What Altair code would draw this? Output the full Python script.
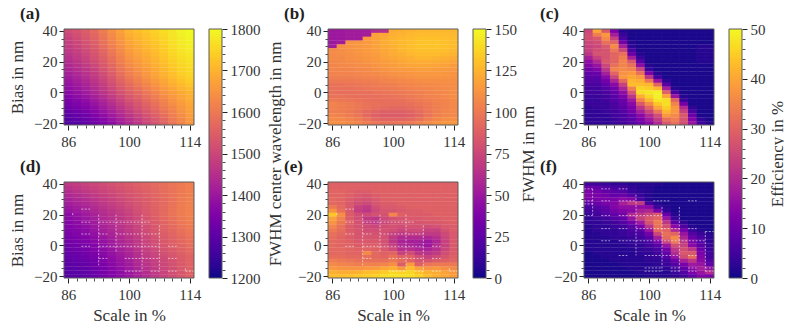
import altair as alt
import pandas as pd

scale_pct = [86, 88, 90, 92, 94, 96, 98, 100, 102, 104, 106, 108, 110, 112, 114]
bias_nm = [40, 37.5, 35, 32.5, 30, 27.5, 25, 22.5, 20, 17.5, 15, 12.5, 10, 7.5, 5, 2.5, 0,
           -2.5, -5, -7.5, -10, -12.5, -15, -17.5, -20]

a_vals = [
 [1510,1525,1545,1570,1605,1640,1670,1700,1715,1730,1745,1760,1775,1790,1800],
 [1500,1515,1538,1562,1597,1632,1663,1692,1708,1724,1740,1755,1772,1787,1797],
 [1490,1508,1530,1555,1590,1625,1655,1685,1702,1718,1735,1750,1768,1784,1793],
 [1483,1500,1522,1547,1582,1617,1647,1677,1695,1712,1729,1745,1764,1780,1789],
 [1475,1493,1515,1540,1575,1608,1640,1670,1688,1706,1723,1740,1760,1775,1785],
 [1468,1486,1507,1532,1566,1600,1632,1662,1681,1700,1717,1735,1755,1771,1781],
 [1460,1478,1500,1525,1558,1592,1625,1655,1674,1693,1711,1730,1750,1766,1776],
 [1452,1470,1492,1517,1550,1584,1617,1647,1667,1686,1705,1725,1745,1761,1771],
 [1445,1463,1485,1510,1542,1576,1610,1640,1660,1680,1700,1720,1740,1756,1766],
 [1435,1453,1475,1500,1532,1566,1600,1630,1651,1672,1692,1713,1733,1750,1761],
 [1426,1444,1465,1490,1522,1556,1590,1620,1642,1664,1685,1706,1726,1744,1756],
 [1416,1434,1455,1480,1512,1546,1580,1610,1633,1656,1678,1700,1719,1738,1751],
 [1407,1424,1445,1470,1502,1535,1570,1600,1624,1648,1671,1693,1712,1732,1746],
 [1398,1414,1435,1460,1492,1524,1558,1587,1611,1636,1660,1682,1701,1721,1737],
 [1389,1404,1425,1450,1481,1513,1546,1574,1598,1623,1648,1672,1691,1711,1727],
 [1379,1395,1415,1440,1470,1501,1533,1561,1584,1609,1634,1658,1678,1698,1713],
 [1370,1385,1405,1430,1460,1490,1520,1548,1570,1595,1620,1645,1665,1685,1700],
 [1358,1374,1392,1416,1446,1476,1506,1534,1557,1582,1608,1634,1656,1677,1694],
 [1347,1362,1380,1404,1432,1462,1492,1520,1544,1570,1596,1622,1646,1668,1687],
 [1336,1350,1367,1390,1418,1447,1477,1506,1531,1558,1584,1611,1637,1659,1680],
 [1325,1338,1355,1377,1405,1433,1463,1492,1518,1545,1572,1600,1627,1651,1674],
 [1313,1325,1342,1363,1391,1418,1448,1478,1505,1533,1560,1589,1618,1643,1668],
 [1302,1314,1330,1351,1377,1404,1434,1463,1491,1520,1548,1578,1608,1635,1662],
 [1291,1302,1317,1338,1363,1390,1419,1449,1478,1508,1536,1566,1599,1627,1656],
 [1280,1290,1305,1325,1350,1375,1405,1435,1465,1495,1525,1555,1590,1620,1650],
]
d_vals = [
 [1470,1480,1490,1500,1510,1520,1530,1540,1550,1560,1570,1580,1590,1600,1610],
 [1458,1468,1479,1490,1502,1512,1523,1534,1545,1556,1567,1578,1589,1600,1610],
 [1446,1457,1468,1480,1493,1504,1516,1528,1540,1552,1564,1576,1588,1600,1611],
 [1434,1445,1457,1470,1484,1496,1509,1522,1535,1548,1561,1574,1587,1600,1611],
 [1422,1434,1446,1460,1475,1488,1502,1516,1530,1544,1558,1572,1586,1601,1612],
 [1410,1423,1436,1450,1466,1479,1494,1509,1525,1540,1556,1571,1587,1602,1613],
 [1399,1412,1425,1440,1457,1471,1486,1503,1520,1537,1553,1570,1588,1603,1613],
 [1387,1401,1415,1430,1448,1463,1478,1496,1515,1533,1551,1570,1589,1604,1614],
 [1375,1390,1405,1420,1440,1455,1470,1490,1510,1530,1550,1570,1590,1605,1615],
 [1368,1382,1397,1413,1433,1449,1465,1484,1504,1525,1545,1565,1584,1600,1611],
 [1362,1375,1390,1407,1428,1444,1460,1479,1499,1520,1540,1560,1578,1595,1607],
 [1356,1368,1382,1400,1421,1438,1455,1474,1494,1514,1535,1555,1572,1590,1602],
 [1350,1361,1375,1393,1414,1432,1450,1469,1489,1510,1530,1550,1566,1583,1597],
 [1344,1354,1367,1385,1406,1424,1443,1462,1483,1505,1525,1545,1561,1577,1592],
 [1337,1348,1360,1377,1398,1416,1435,1455,1477,1500,1520,1540,1555,1571,1586],
 [1331,1341,1352,1368,1389,1408,1428,1448,1471,1495,1515,1535,1550,1565,1580],
 [1325,1335,1345,1360,1380,1400,1420,1440,1465,1490,1510,1530,1545,1560,1575],
 [1319,1328,1338,1353,1373,1393,1413,1434,1459,1484,1504,1524,1539,1554,1569],
 [1314,1322,1332,1346,1367,1387,1407,1427,1452,1477,1498,1517,1533,1549,1563],
 [1309,1316,1325,1340,1360,1380,1400,1420,1445,1470,1492,1510,1527,1544,1558],
 [1304,1310,1319,1333,1353,1373,1393,1413,1439,1464,1485,1504,1522,1540,1556],
 [1299,1304,1313,1327,1347,1367,1387,1407,1433,1458,1480,1499,1518,1537,1554],
 [1294,1298,1307,1321,1341,1361,1381,1401,1426,1451,1475,1495,1514,1534,1552],
 [1290,1294,1303,1318,1338,1358,1378,1398,1423,1448,1472,1492,1512,1532,1551],
 [1285,1290,1300,1315,1335,1355,1375,1395,1420,1445,1470,1490,1510,1530,1550],
]
b_vals = [
 [50,50,52,52,53,60,62,122,124,125,126,127,127,127,126],
 [50,50,52,52,53,118,120,124,125,127,128,128,128,128,127],
 [50,50,52,52,115,118,122,125,127,128,130,130,130,129,128],
 [50,52,112,113,115,118,122,125,127,129,131,131,131,130,128],
 [52,110,112,113,115,118,121,124,127,129,131,131,131,130,128],
 [108,109,111,113,115,117,120,123,126,128,130,130,130,129,127],
 [108,109,110,112,114,116,119,122,124,126,128,128,128,127,125],
 [108,108,110,111,113,115,118,120,122,124,126,126,125,124,122],
 [107,108,109,110,112,114,116,118,120,122,123,123,122,121,119],
 [106,107,108,109,110,112,114,116,118,119,120,120,119,118,116],
 [106,106,106,107,108,110,112,114,115,116,117,117,116,115,114],
 [105,105,105,106,107,108,110,111,112,113,114,114,114,113,112],
 [103,103,103,104,105,106,107,109,110,111,112,112,112,112,111],
 [100,100,100,101,102,103,105,106,107,108,109,110,110,110,110],
 [97,97,98,99,100,101,102,103,105,106,107,108,108,109,109],
 [96,96,96,97,98,99,100,101,102,104,105,106,107,108,109],
 [96,95,95,96,96,97,98,99,100,101,103,105,106,107,109],
 [97,97,96,95,95,95,96,97,98,100,102,104,105,107,109],
 [100,99,98,97,96,95,95,95,96,98,100,102,104,106,108],
 [105,103,101,99,97,96,95,95,95,96,98,100,103,105,107],
 [104,102,101,99,97,95,93,92,92,94,96,99,102,105,107],
 [103,102,100,97,93,90,88,88,88,90,94,98,102,106,107],
 [106,104,101,98,92,88,86,86,86,88,92,98,103,106,107],
 [108,107,105,102,97,92,90,90,90,92,96,102,106,109,110],
 [110,110,108,106,102,98,96,97,98,100,104,108,111,113,113],
]
e_vals = [
 [88,88,88,88,88,88,88,88,88,88,88,88,88,88,88],
 [88,88,88,88,88,88,88,88,88,88,88,88,88,88,88],
 [90,90,88,86,86,88,88,88,88,88,88,88,88,88,88],
 [90,90,88,84,82,86,88,88,88,88,88,88,88,88,88],
 [92,90,86,82,80,84,88,88,88,88,88,88,88,88,88],
 [92,90,84,78,76,82,86,86,88,88,88,88,88,88,88],
 [100,92,84,72,68,78,84,84,86,88,88,88,88,88,88],
 [112,96,84,70,66,76,82,82,84,86,86,88,88,88,88],
 [132,110,86,78,76,80,80,106,88,86,86,86,88,88,88],
 [118,104,86,78,68,66,76,80,82,84,84,86,86,88,88],
 [112,100,88,80,70,68,74,78,80,82,82,84,84,86,88],
 [106,96,86,80,76,74,78,80,78,80,80,78,80,84,86],
 [100,94,86,82,78,78,80,78,74,76,76,72,72,80,86],
 [96,92,86,82,80,80,78,72,68,70,70,68,68,76,84],
 [94,90,86,82,82,82,80,68,60,60,60,58,62,74,84],
 [92,90,88,84,84,84,80,66,56,54,54,50,58,72,84],
 [92,90,88,86,86,86,80,70,58,56,52,50,60,72,84],
 [92,92,90,88,90,88,84,76,62,62,58,56,62,74,84],
 [92,92,90,90,108,92,88,90,72,78,66,64,68,78,86],
 [94,94,92,92,96,92,90,96,88,88,78,72,76,82,88],
 [102,100,98,96,96,96,96,100,94,90,82,82,86,88,90],
 [108,106,104,102,104,104,106,110,86,116,88,98,100,100,100],
 [114,112,112,112,114,116,120,124,114,128,118,112,114,110,108],
 [124,122,122,124,128,130,134,138,136,138,130,124,122,118,114],
 [128,128,130,132,134,136,140,142,142,140,136,128,124,120,116],
]
c_vals = [
 [25,40,28,12,2,1,1,1,1,1,1,1,1,1,1],
 [26,34,38,18,4,1,1,1,1,1,1,1,1,1,1],
 [26,28,36,24,6,1,1,1,1,1,1,1,1,1,1],
 [25,26,32,30,11,2,1,1,1,1,1,1,1,1,1],
 [24,25,28,36,18,3,1,1,1,1,1,1,1,2,2],
 [24,26,27,33,25,6,1,1,1,1,1,1,1,2,2],
 [22,27,27,30,32,10,2,1,1,1,1,1,1,2,2],
 [18,24,27,30,34,18,4,1,1,1,1,1,1,2,2],
 [15,20,28,30,35,28,8,1,1,1,1,1,1,2,2],
 [13,16,25,32,35,32,15,2,1,1,1,1,1,1,1],
 [11,13,22,35,36,35,25,4,1,1,1,1,1,1,1],
 [9,10,18,30,37,38,32,12,2,1,1,1,1,1,1],
 [8,8,14,25,38,40,38,22,5,1,1,1,1,1,1],
 [7,7,11,19,31,42,41,33,16,3,1,1,1,1,1],
 [6,6,9,14,24,43,43,42,30,8,1,1,1,1,1],
 [5,5,7,11,19,35,46,45,42,18,2,1,1,1,1],
 [5,5,6,9,15,28,47,48,49,30,6,1,1,1,1],
 [4,4,5,8,12,22,41,46,49,40,16,2,1,1,1],
 [4,4,5,7,10,17,35,42,48,47,30,4,1,1,1],
 [4,4,4,6,9,14,28,36,44,47,35,11,1,1,1],
 [3,4,4,6,8,12,22,30,40,45,38,20,3,1,1],
 [3,3,4,5,7,11,18,25,33,42,38,24,6,1,1],
 [3,3,3,5,6,9,14,20,26,38,36,28,10,1,1],
 [3,3,3,4,6,8,12,17,23,32,34,27,13,3,1],
 [3,3,3,4,5,7,10,14,20,28,32,26,16,5,2],
]
f_vals = [
 [5,5,4,3,3,2,2,2,2,1,1,1,1,1,1],
 [10,9,7,6,5,3,2,2,1,1,1,1,1,1,1],
 [12,11,9,8,7,4,3,2,1,1,1,1,1,1,1],
 [13,12,11,9,10,7,4,2,1,1,1,1,1,1,1],
 [12,12,12,12,14,13,6,2,1,1,1,1,1,1,1],
 [9,10,12,13,18,22,23,5,2,1,1,1,1,1,1],
 [6,7,9,13,15,15,15,14,4,2,1,1,1,1,1],
 [5,6,8,11,13,14,18,19,12,3,1,1,1,1,1],
 [4,5,7,9,11,20,22,25,28,10,2,1,1,1,1],
 [3,4,5,7,9,16,24,28,30,16,4,1,1,1,1],
 [3,3,4,5,7,11,17,27,33,22,8,3,1,1,1],
 [2,3,3,4,5,8,12,22,32,26,14,6,2,1,1],
 [2,3,3,3,4,6,8,16,31,30,20,11,4,2,1],
 [2,2,3,3,4,5,6,11,25,32,30,16,7,4,2],
 [2,2,2,3,3,4,5,8,18,31,36,19,10,6,3],
 [2,2,2,2,3,3,4,6,12,25,33,22,12,7,3],
 [2,2,2,2,2,3,3,5,8,16,26,24,14,8,4],
 [2,2,2,2,2,2,3,4,6,11,22,26,22,10,4],
 [1,2,2,2,2,2,3,3,5,9,20,28,28,12,5],
 [1,1,2,2,2,2,2,3,4,7,16,26,31,13,5],
 [1,1,1,2,2,2,2,3,3,5,10,18,22,14,7],
 [1,1,1,1,2,2,2,2,3,4,7,12,17,16,9],
 [1,1,1,1,1,2,2,2,2,3,5,9,14,18,15],
 [1,1,1,1,1,1,2,2,2,2,4,7,12,16,20],
 [1,1,1,1,1,1,1,2,2,2,3,5,9,13,12],
]

# hairline gaps in the lower panels: (x, x2, y, y2)
gaps_de = [
 (89,91,23.6,23.6),(89,91,15.1,15.1),(93,105,15.1,15.1),(89,91,7.4,7.4),(93,95,7.4,7.4),
 (97,107,7.4,7.4),(89,91,-0.6,-0.6),(93,107,-0.6,-0.6),(109,111,-0.6,-0.6),(93,95,-8.5,-8.5),
 (99,107,-8.5,-8.5),(109,111,-8.5,-8.5),(99,103,-16.8,-16.8),(105,107,-16.8,-16.8),
 (109,111,-16.8,-16.8),(113,115,-16.8,-16.8),
 (93,93,20,-13),(97,97,20,-4),(103,103,20,-17),(107,107,13,-17),(113,113,-15,-17),(87,87,21,19),
]
gaps_f = [
 (85,87,36.8,36.8),(89,91,36.8,36.8),(93,95,36.8,36.8),(85,87,29,29),(89,91,29,29),(93,97,29,29),
 (101,105,29,29),(109,111,29,29),(85,87,27,27),(85,87,19.4,19.4),(89,91,19.4,19.4),(93,97,19.4,19.4),
 (97,103,19.4,19.4),(89,91,10.9,10.9),(93,95,10.9,10.9),(97,107,10.9,10.9),(109,111,10.9,10.9),
 (113,115,9,9),(89,91,3,3),(93,113,3,3),(93,95,-6.6,-6.6),(99,107,-6.6,-6.6),(109,111,-6.6,-6.6),
 (99,103,-14.7,-14.7),(105,107,-14.7,-14.7),(109,111,-14.7,-14.7),(113,115,-14.7,-14.7),
 (99,103,-16.8,-16.8),(105,107,-16.8,-16.8),(109,111,-16.8,-16.8),(113,115,-16.8,-16.8),
 (97,97,33,-6.6),(103,103,25,-17),(107,107,25,-17),(113,113,9,-17),(87,87,36.8,19.4),
]

x_major = [86, 100, 114]
x_minor = [88, 90, 92, 94, 96, 98, 102, 104, 106, 108, 110, 112]
y_major = [40, 20, 0, -20]
y_minor = [35, 30, 25, 15, 10, 5, -5, -10, -15]

cb_a = {"dom": [1200, 1800], "major": [1200, 1300, 1400, 1500, 1600, 1700, 1800],
        "title": "FWHM center wavelength in nm", "tp": 7}
cb_b = {"dom": [0, 150], "major": [0, 25, 50, 75, 100, 125, 150], "title": "FWHM in nm", "tp": 4}
cb_c = {"dom": [0, 50], "major": [0, 10, 20, 30, 40, 50], "title": "Efficiency in %", "tp": 4}

XDOM = [85, 115]
YDOM = [-21.25, 41.25]
PW, PH = 130, 96
INK = "#333333"
FRAME = "#5a5a5a"


def panel(vals, dom, label, gaps=None, xtitle=None, ytitle=None):
    rows = []
    for yv, row in zip(bias_nm, vals):
        for xv, v in zip(scale_pct, row):
            # cells overlap slightly so the white page does not show through their edges
            rows.append({"x": xv - 1, "x2": xv + 1.15, "y": yv - 1.45, "y2": yv + 1.25, "v": v})
    sx = alt.Scale(domain=XDOM, nice=False, zero=False)
    sy = alt.Scale(domain=YDOM, nice=False, zero=False)
    heat = alt.Chart(pd.DataFrame(rows)).mark_rect(
        stroke="white", strokeWidth=0.4, strokeOpacity=0.07, clip=True
    ).encode(
        x=alt.X("x:Q", scale=sx, axis=alt.Axis(values=x_major, title=xtitle, grid=False, domain=False, format="d",
                                                tickSize=5, tickWidth=1, labelFontSize=15, labelPadding=4,
                                                titleFontSize=17, titlePadding=5, orient="bottom",
                                                labelFlush=False, labelOverlap=False)),
        x2="x2:Q",
        y=alt.Y("y:Q", scale=sy, axis=alt.Axis(values=y_major, title=ytitle, grid=False, domain=False, format="d",
                                                tickSize=5, tickWidth=1, labelFontSize=15, labelPadding=2,
                                                titleFontSize=17, titlePadding=7, orient="left",
                                                labelFlush=False, labelOverlap=False)),
        y2="y2:Q",
        color=alt.Color("v:Q", scale=alt.Scale(scheme="plasma", domain=dom), legend=None),
    )
    mx = alt.Chart(pd.DataFrame({"x": x_minor})).mark_point(opacity=0).encode(
        x=alt.X("x:Q", scale=sx, axis=alt.Axis(values=x_minor, title=None, labels=False, grid=False, domain=False,
                                                tickSize=3, tickWidth=0.8, orient="bottom")),
        y=alt.value(0),
    )
    my = alt.Chart(pd.DataFrame({"y": y_minor})).mark_point(opacity=0).encode(
        y=alt.Y("y:Q", scale=sy, axis=alt.Axis(values=y_minor, title=None, labels=False, grid=False, domain=False,
                                                tickSize=3, tickWidth=0.8, orient="left")),
        x=alt.value(0),
    )
    layers = [heat, mx, my]
    if gaps:
        g = pd.DataFrame(gaps, columns=["x", "x2", "y", "y2"])
        layers.append(alt.Chart(g).mark_rule(color="white", strokeWidth=0.7, strokeDash=[2, 1.5], opacity=0.8).encode(
            x=alt.X("x:Q", scale=sx, axis=None), x2="x2:Q",
            y=alt.Y("y:Q", scale=sy, axis=None), y2="y2:Q"))
    fr = pd.DataFrame({"x": [XDOM[0]], "x2": [XDOM[1]], "y": [YDOM[0]], "y2": [YDOM[1]]})
    layers.append(alt.Chart(fr).mark_rect(filled=False, stroke=FRAME, strokeWidth=1).encode(
        x=alt.X("x:Q", scale=sx, axis=None), x2="x2:Q",
        y=alt.Y("y:Q", scale=sy, axis=None), y2="y2:Q"))
    return alt.layer(*layers).resolve_axis(x="independent", y="independent").properties(
        width=PW, height=PH,
        title=alt.TitleParams(text=label, anchor="start", frame="group", dx=-44, offset=1, fontSize=17,
                              fontWeight="bold", font="Liberation Serif", color="#222222"),
    )


def colorbar(cb):
    lo, hi = cb["dom"]
    n = 150
    step = (hi - lo) / n
    df = pd.DataFrame({"lo": [lo + i * step for i in range(n)],
                       "hi": [min(hi, lo + (i + 1.6) * step) for i in range(n)]})
    df["mid"] = df["lo"] + step / 2
    df["cx"] = 0
    df["cx2"] = 1
    sx = alt.Scale(domain=[0, 1], nice=False, zero=False)
    sy = alt.Scale(domain=cb["dom"], nice=False, zero=False)
    major = cb["major"]
    sub = (major[1] - major[0]) / 5
    minor = [major[0] + i * sub for i in range(1, int((hi - lo) / sub)) if i % 5 != 0]
    cs = alt.Scale(scheme="plasma", domain=cb["dom"])
    bar = alt.Chart(df).mark_rect().encode(
        y=alt.Y("lo:Q", scale=sy, axis=alt.Axis(values=major, title=cb["title"], grid=False, domain=False, format="d",
                                                 tickSize=5, tickWidth=1, labelFontSize=15, labelPadding=3,
                                                 titleFontSize=17, titlePadding=cb["tp"], orient="right",
                                                 titleAngle=270, titleBaseline="top",
                                                 labelOverlap=False, labelFlush=False)),
        y2="hi:Q",
        x=alt.X("cx:Q", scale=sx, axis=None), x2="cx2:Q",
        color=alt.Color("mid:Q", scale=cs, legend=None),
    )
    my = alt.Chart(pd.DataFrame({"y": minor})).mark_point(opacity=0).encode(
        y=alt.Y("y:Q", scale=sy, axis=alt.Axis(values=minor, title=None, labels=False, grid=False, domain=False,
                                                tickSize=3, tickWidth=0.8, orient="right")),
        x=alt.value(0),
    )
    fr = alt.Chart(pd.DataFrame({"y": [lo], "y2": [hi], "cx": [0], "cx2": [1]})).mark_rect(
        filled=False, stroke=FRAME, strokeWidth=1).encode(
        x=alt.X("cx:Q", scale=sx, axis=None), x2="cx2:Q",
        y=alt.Y("y:Q", scale=sy, axis=None), y2="y2:Q")
    return alt.layer(bar, my, fr).resolve_axis(y="independent").properties(width=13, height=249)


def column(top, bottom):
    return alt.vconcat(top, bottom, spacing=57, bounds="flush").resolve_scale(color="independent")


def spacer(w):
    return alt.Chart(pd.DataFrame({"s": [0]})).mark_point(opacity=0).encode(
        x=alt.value(0), y=alt.value(0)).properties(width=w, height=249)


col1 = column(panel(a_vals, cb_a["dom"], "(a)", ytitle="Bias in nm"),
              panel(d_vals, cb_a["dom"], "(d)", gaps_de, "Scale in %", "Bias in nm"))
col2 = column(panel(b_vals, cb_b["dom"], "(b)"),
              panel(e_vals, cb_b["dom"], "(e)", gaps_de, "Scale in %"))
col3 = column(panel(c_vals, cb_c["dom"], "(c)"),
              panel(f_vals, cb_c["dom"], "(f)", gaps_f, "Scale in %"))

# a flush stacked column counts as zero wide, so a spacer stands in for the plot width
chart = alt.hconcat(col1, spacer(119), colorbar(cb_a), spacer(80),
                    col2, spacer(119), colorbar(cb_b), spacer(72),
                    col3, spacer(119), colorbar(cb_c),
                    spacing=13, bounds="flush").resolve_scale(color="independent").properties(
    padding={"left": 0, "right": -1, "top": -4, "bottom": 0},
).configure(
    font="Liberation Serif",
).configure_view(stroke=None).configure_axis(
    labelColor=INK, titleColor=INK, tickColor="#222222", labelFont="Liberation Serif",
    titleFont="Liberation Serif", titleFontWeight="normal",
)

chart.save("out.html", embed_options={"renderer": "svg", "actions": False})
